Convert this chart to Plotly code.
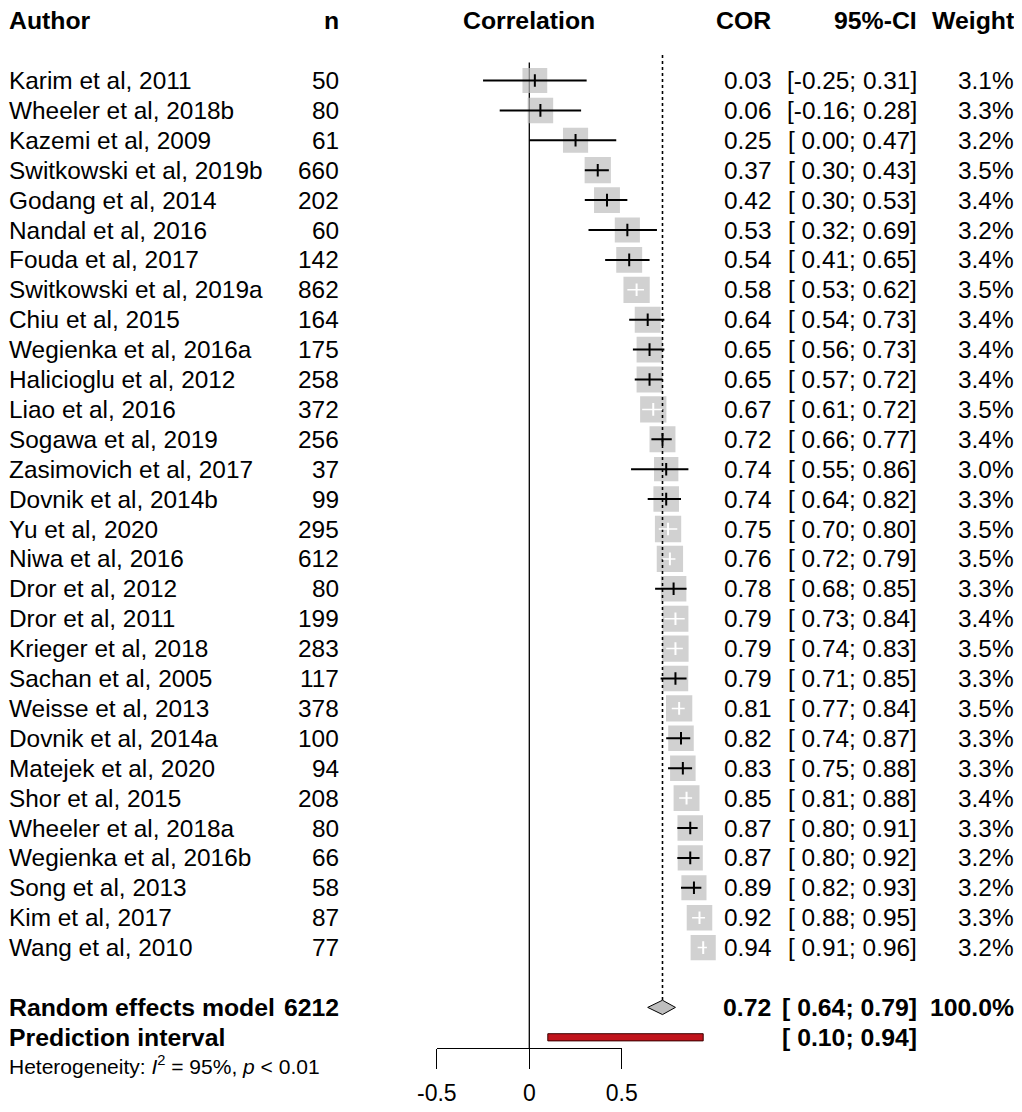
import math
import plotly.graph_objects as go

# ---------------- data ----------------
authors = ["Karim et al, 2011", "Wheeler et al, 2018b", "Kazemi et al, 2009",
           "Switkowski et al, 2019b", "Godang et al, 2014", "Nandal et al, 2016",
           "Fouda et al, 2017", "Switkowski et al, 2019a", "Chiu et al, 2015",
           "Wegienka et al, 2016a", "Halicioglu et al, 2012", "Liao et al, 2016",
           "Sogawa et al, 2019", "Zasimovich et al, 2017", "Dovnik et al, 2014b",
           "Yu et al, 2020", "Niwa et al, 2016", "Dror et al, 2012", "Dror et al, 2011",
           "Krieger et al, 2018", "Sachan et al, 2005", "Weisse et al, 2013",
           "Dovnik et al, 2014a", "Matejek et al, 2020", "Shor et al, 2015",
           "Wheeler et al, 2018a", "Wegienka et al, 2016b", "Song et al, 2013",
           "Kim et al, 2017", "Wang et al, 2010"]
n_values = [50, 80, 61, 660, 202, 60, 142, 862, 164, 175, 258, 372, 256, 37, 99,
            295, 612, 80, 199, 283, 117, 378, 100, 94, 208, 80, 66, 58, 87, 77]
cor = [0.03, 0.06, 0.25, 0.37, 0.42, 0.53, 0.54, 0.58, 0.64, 0.65, 0.65, 0.67, 0.72,
       0.74, 0.74, 0.75, 0.76, 0.78, 0.79, 0.79, 0.79, 0.81, 0.82, 0.83, 0.85, 0.87,
       0.87, 0.89, 0.92, 0.94]
ci_lower = [-0.25, -0.16, 0.00, 0.30, 0.30, 0.32, 0.41, 0.53, 0.54, 0.56, 0.57, 0.61,
            0.66, 0.55, 0.64, 0.70, 0.72, 0.68, 0.73, 0.74, 0.71, 0.77, 0.74, 0.75,
            0.81, 0.80, 0.80, 0.82, 0.88, 0.91]
ci_upper = [0.31, 0.28, 0.47, 0.43, 0.53, 0.69, 0.65, 0.62, 0.73, 0.73, 0.72, 0.72,
            0.77, 0.86, 0.82, 0.80, 0.79, 0.85, 0.84, 0.83, 0.85, 0.84, 0.87, 0.88,
            0.88, 0.91, 0.92, 0.93, 0.95, 0.96]
weights = [3.1, 3.3, 3.2, 3.5, 3.4, 3.2, 3.4, 3.5, 3.4, 3.4, 3.4, 3.5, 3.4, 3.0, 3.3,
           3.5, 3.5, 3.3, 3.4, 3.5, 3.3, 3.5, 3.3, 3.3, 3.4, 3.3, 3.2, 3.2, 3.3, 3.2]

re_total_n = 6212
re_est, re_lower, re_upper, re_weight = 0.72, 0.64, 0.79, 100.0
pred_lower, pred_upper = 0.10, 0.94
het_i2, het_p = "95%", "&lt; 0.01"

x_tick_vals = [-0.5, 0, 0.5]
x_tick_text = ["-0.5", "0", "0.5"]

# studies whose CI fits inside the square (drawn in white)
white_inside = {"Switkowski et al, 2019a", "Liao et al, 2016", "Yu et al, 2020",
                "Niwa et al, 2016", "Dror et al, 2011", "Krieger et al, 2018",
                "Weisse et al, 2013", "Shor et al, 2015", "Kim et al, 2017",
                "Wang et al, 2010"}

# ---------------- layout geometry (page pixels; the page body adds 8 px) ----------------
W, H = 1022, 1112
OFF = 8
ROW0_PX, ROW_H = 80.5 - OFF, 29.9
X0_PX, XS = 529.3 - OFF, 185.0
AXIS_PX = 1048 - OFF
FONT = "Liberation Sans, Arial, sans-serif"
FS = 24.4
FS_BOLD = 24.8
GRAY = "#BEBEBE"


def px2row(p):
    return 1 + (p - ROW0_PX) / ROW_H


def xdom(a, b):
    return [(X0_PX + XS * a) / W, (X0_PX + XS * b) / W]


rows = list(range(1, len(authors) + 1))
header_row = -1
re_row = len(authors) + 2
pred_row = re_row + 1
het_row = pred_row + 1

fig = go.Figure()

# zero reference line
fig.add_trace(go.Scatter(x=[0, 0], y=[px2row(62.5 - OFF), px2row(AXIS_PX)], mode="lines",
                         line=dict(color="black", width=1.3), hoverinfo="skip"))

# squares
sizes = [26.3 * math.sqrt(w / 3.5) for w in weights]
fig.add_trace(go.Scatter(x=cor, y=rows, mode="markers",
                         marker=dict(symbol="square", size=sizes, color=GRAY,
                                     line=dict(width=0)),
                         hoverinfo="skip"))

# dotted summary line
fig.add_trace(go.Scatter(x=[re_est, re_est], y=[px2row(55 - OFF), re_row - 0.24],
                         mode="lines", line=dict(color="black", width=1.6, dash="dot"),
                         hoverinfo="skip"))

# confidence intervals
bx, by, wx, wy = [], [], [], []
for a, lo, hi, r in zip(authors, ci_lower, ci_upper, rows):
    if a in white_inside:
        wx += [lo, hi, None]
        wy += [r, r, None]
    else:
        bx += [lo, hi, None]
        by += [r, r, None]
fig.add_trace(go.Scatter(x=bx, y=by, mode="lines", line=dict(color="black", width=2),
                         hoverinfo="skip"))
fig.add_trace(go.Scatter(x=wx, y=wy, mode="lines", line=dict(color="white", width=1.5),
                         hoverinfo="skip"))
tick_cols = ["white" if a in white_inside else "black" for a in authors]
fig.add_trace(go.Scatter(x=cor, y=rows, mode="markers",
                         marker=dict(symbol="line-ns", size=9,
                                     line=dict(width=2, color=tick_cols)),
                         hoverinfo="skip"))

# summary diamond
dh = 0.24
fig.add_trace(go.Scatter(x=[re_lower, re_est, re_upper, re_est, re_lower],
                         y=[re_row, re_row - dh, re_row, re_row + dh, re_row],
                         mode="lines", fill="toself", fillcolor=GRAY,
                         line=dict(color="black", width=1), hoverinfo="skip"))

# prediction interval
ph = 0.12
fig.add_trace(go.Scatter(x=[pred_lower, pred_upper, pred_upper, pred_lower, pred_lower],
                         y=[pred_row - ph, pred_row - ph, pred_row + ph, pred_row + ph,
                            pred_row - ph],
                         mode="lines", fill="toself", fillcolor="#C0141C",
                         line=dict(color="#3a0000", width=1), hoverinfo="skip"))

# invisible trace carrying the visible x axis
fig.add_trace(go.Scatter(x=[x_tick_vals[0], x_tick_vals[-1]], y=[0, 0], xaxis="x2",
                         mode="markers", marker=dict(opacity=0), hoverinfo="skip"))

# ---------------- text columns ----------------
ann = []


def txt(x_px, row, text, anchor="left", bold=False, size=None):
    if size is None:
        size = FS_BOLD if bold else FS
    if bold:
        text = "<b>" + text + "</b>"
    ann.append(dict(x=x_px / W, xref="paper", y=row, yref="y", text=text,
                    xanchor=anchor, yanchor="middle", showarrow=False,
                    font=dict(family=FONT, size=size, color="black")))


def fmt_ci(lo, hi):
    return "[" + ("\u00a0" if lo >= 0 else "") + f"{lo:.2f}; {hi:.2f}]"


COL_AUTHOR = 8 - OFF - 1
COL_N = 341 - OFF
COL_COR = 773 - OFF
COL_CI = 919 - OFF
COL_W = 1016 - OFF

txt(COL_AUTHOR, header_row, "Author", "left", True)
txt(COL_N, header_row, "n", "right", True)
txt(X0_PX, header_row, "Correlation", "center", True)
txt(COL_COR, header_row, "COR", "right", True)
txt(COL_CI, header_row, "95%-CI", "right", True)
txt(COL_W, header_row, "Weight", "right", True)

for a, n, c, lo, hi, w, r in zip(authors, n_values, cor, ci_lower, ci_upper, weights, rows):
    txt(COL_AUTHOR, r, a, "left")
    txt(COL_N, r, str(n), "right")
    txt(COL_COR, r, f"{c:.2f}", "right")
    txt(COL_CI, r, fmt_ci(lo, hi), "right")
    txt(COL_W, r, f"{w:.1f}%", "right")

txt(COL_AUTHOR, re_row, "Random effects model", "left", True)
txt(COL_N, re_row, str(re_total_n), "right", True)
txt(COL_COR, re_row, f"{re_est:.2f}", "right", True)
txt(COL_CI, re_row, fmt_ci(re_lower, re_upper), "right", True)
txt(COL_W, re_row, f"{re_weight:.1f}%", "right", True)
txt(COL_AUTHOR, pred_row, "Prediction interval", "left", True)
txt(COL_CI, pred_row, fmt_ci(pred_lower, pred_upper), "right", True)
txt(COL_AUTHOR, het_row - 0.08,
    f"Heterogeneity: <i>I</i><sup>2</sup> = {het_i2}, <i>p</i> {het_p}", "left", size=21)

fig.update_layout(
    template="none",
    width=W, height=H, margin=dict(l=0, r=0, t=0, b=0, pad=0, autoexpand=False),
    paper_bgcolor="white", plot_bgcolor="rgba(0,0,0,0)", showlegend=False,
    font=dict(family=FONT, size=FS, color="black"),
    annotations=ann,
    xaxis=dict(domain=xdom(-0.6, 1.05), range=[-0.6, 1.05], visible=False,
               fixedrange=True, automargin=False),
    xaxis2=dict(domain=xdom(-0.5, 0.5), range=[-0.5, 0.5], anchor="free",
                position=1 - AXIS_PX / H, side="bottom", showline=True,
                linecolor="black", linewidth=1.3, ticks="outside", ticklen=20,
                tickwidth=1.3, tickcolor="black", tickvals=x_tick_vals,
                ticktext=x_tick_text, showgrid=False, zeroline=False,
                tickfont=dict(family=FONT, size=23, color="black"),
                ticklabelstandoff=4,
                fixedrange=True, automargin=False),
    yaxis=dict(domain=[0, 1], range=[px2row(H), px2row(0)], visible=False,
               fixedrange=True, automargin=False),
)

fig.write_html("out.html", config={"displayModeBar": False})
